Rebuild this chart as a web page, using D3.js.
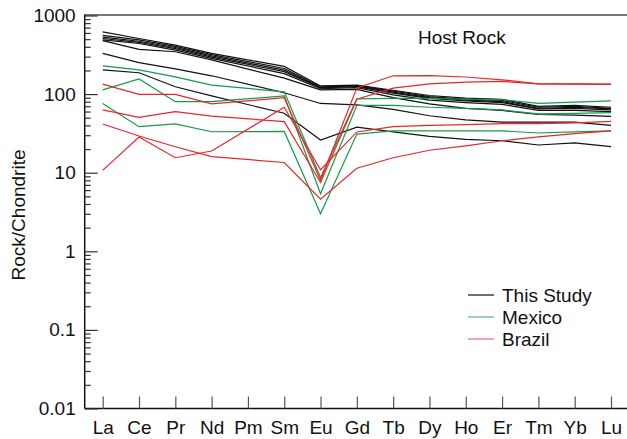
<!DOCTYPE html>
<html>
<head>
<meta charset="utf-8">
<script src="https://cdn.jsdelivr.net/npm/d3@7"></script>
<style>
  body { margin: 0; background: #fff; }
  svg { font-family: "Liberation Sans", Arial, sans-serif; }
</style>
</head>
<body>
<svg id="canvas"></svg>
<script>
// REE chondrite-normalised values, Pm left out (null)
let elements = ["La","Ce","Pr","Nd","Pm","Sm","Eu","Gd","Tb","Dy","Ho","Er","Tm","Yb","Lu"]

let thisStudy = [
  [620, 510, 420, 330, null, 225, 127, 130, 112, 96, 89, 86, 70, 72, 68],
  [560, 490, 405, 318, null, 212, 124, 128, 109, 93, 86, 83, 68, 70, 66],
  [530, 470, 392, 306, null, 202, 122, 126, 106, 90, 84, 80, 66, 68, 65],
  [510, 455, 378, 296, null, 193, 120, 124, 103, 88, 82, 78, 65, 66, 63],
  [490, 440, 362, 285, null, 182, 117, 121, 98, 84, 78, 74, 62, 62, 60],
  [480, 371, 346, 272, null, 160, 113, 115, 90, 75, 66, 62, 55, 54, 52],
  [330, 251, 209, 171, null, 104, 76, 73, 64, 53, 47, 44, 44, 44, 40],
  [203, 187, 124, 95, null, 57, 26, 38, 33, 29, 26.5, 25.5, 22.5, 24, 21.5]
]

let mexico = [
  [228, 203, 166, 130, null, 107, 8.7, 87, 88, 88, 86, 85, 76, 79, 82],
  [113, 156, 80, 80, null, 95, 5.4, 72, 72, 68, 66, 63, 56, 57, 58],
  [76, 38.5, 41.7, 33.2, null, 33.5, 3.0, 31, 34, 34, 34, 34, 32, 33, 34]
]

let brazil = [
  [134, 99, 99, 75, null, 90, 8.0, 120, 171, 172, 165, 152, 135, 135, 134],
  [63, 50.7, 60, 52.6, null, 44.6, 7.5, 86, 119, 135, 142, 145, 135, 134, 133],
  [41.7, 29.3, 21.4, 16, null, 13.5, 4.6, 11.4, 15.5, 19.3, 22, 25.5, 28.5, 31.5, 34],
  [10.7, 28.5, 15.5, 18.9, null, 68, 10.9, 33, 38.5, 40, 41, 42, 42, 43, 45]
]

let yMajor = [0.01, 0.1, 1, 10, 100, 1000]
let yMajorLabels = ["0.01", "0.1", "1", "10", "100", "1000"]

let groups = [
  {name: "This Study", color: "#111111", rows: thisStudy},
  {name: "Mexico", color: "#149a4a", rows: mexico},
  {name: "Brazil", color: "#e8262b", rows: brazil}
]

let width = 627
let height = 439
let plotLeft = 84.7, plotTop = 15.5, plotBottom = 408.5

let svg = d3.select('#canvas').attr('width', width).attr('height', height)

let xScale = d3.scalePoint().domain(elements).range([102.7, 611])
let yScale = d3.scaleLog().domain([0.01, 1000]).range([plotBottom, plotTop])

// frame
svg.append('line').attr('x1', plotLeft).attr('x2', 630).attr('y1', plotTop - 0.5).attr('y2', plotTop - 0.5)
   .attr('stroke', '#777').attr('stroke-width', 2)
svg.append('line').attr('x1', plotLeft).attr('x2', 630).attr('y1', plotBottom).attr('y2', plotBottom)
   .attr('stroke', '#111').attr('stroke-width', 1.5)
svg.append('line').attr('x1', plotLeft).attr('x2', plotLeft).attr('y1', plotTop - 1).attr('y2', plotBottom)
   .attr('stroke', '#111').attr('stroke-width', 1.5)

// y ticks (inside), minor + major
let minor = yScale.ticks().filter(d => !yMajor.includes(d))
let yMinorAxis = d3.axisRight(yScale).tickValues(minor).tickSize(6).tickFormat('')
let yMajorAxis = d3.axisRight(yScale).tickValues(yMajor).tickSize(13).tickFormat('')
let yLabelAxis = d3.axisLeft(yScale).tickValues(yMajor).tickSize(0).tickPadding(9)
                   .tickFormat((d, i) => yMajorLabels[i])

let gy1 = svg.append('g').attr('transform', 'translate(' + plotLeft + ',0)').call(yMinorAxis)
let gy2 = svg.append('g').attr('transform', 'translate(' + plotLeft + ',0)').call(yMajorAxis)
let gy3 = svg.append('g').attr('transform', 'translate(' + plotLeft + ',0)').call(yLabelAxis)
;[gy1, gy2, gy3].forEach(g => {
  g.select('.domain').remove()
  g.selectAll('line').attr('stroke', '#333').attr('stroke-width', 1.2)
})
gy3.selectAll('text').attr('font-size', 19).attr('fill', '#111').style('font-family', 'inherit')

// x ticks (pointing up) and labels
let xTickAxis = d3.axisTop(xScale).tickSize(12).tickSizeOuter(0).tickFormat('')
let xLabelAxis = d3.axisBottom(xScale).tickSize(0).tickPadding(12)
let gx1 = svg.append('g').attr('transform', 'translate(0,' + plotBottom + ')').call(xTickAxis)
let gx2 = svg.append('g').attr('transform', 'translate(0,' + plotBottom + ')').call(xLabelAxis)
gx1.select('.domain').remove()
gx2.select('.domain').remove()
gx1.selectAll('line').attr('stroke', '#555').attr('stroke-width', 1.2)
gx2.selectAll('text').attr('font-size', 19).attr('fill', '#111').style('font-family', 'inherit')

// y title
svg.append('text')
   .attr('transform', 'translate(25,215) rotate(-90)')
   .attr('text-anchor', 'middle')
   .attr('font-size', 19)
   .attr('fill', '#111')
   .text('Rock/Chondrite')

// lines, skipping the missing Pm value
let line = d3.line().x(d => xScale(d.el)).y(d => yScale(d.v))

groups.forEach(g => {
  g.rows.forEach(row => {
    let pts = row.map((v, i) => ({el: elements[i], v: v})).filter(d => d.v != null)
    svg.append('path').datum(pts)
       .attr('d', line)
       .attr('fill', 'none')
       .attr('stroke', g.color)
       .attr('stroke-width', 1.2)
  })
})

// title
svg.append('text').attr('x', 418).attr('y', 44).attr('font-size', 19).attr('fill', '#111').text('Host Rock')

// legend
let legend = svg.append('g')
groups.forEach((g, i) => {
  let yy = 295 + i * 22
  legend.append('line').attr('x1', 468).attr('x2', 494).attr('y1', yy).attr('y2', yy)
        .attr('stroke', g.color).attr('stroke-width', 1.2).attr('stroke-opacity', i == 0 ? 1 : 0.7)
  legend.append('text').attr('x', 502).attr('y', yy + 7).attr('font-size', 19).attr('fill', '#111').text(g.name)
})
</script>
</body>
</html>
